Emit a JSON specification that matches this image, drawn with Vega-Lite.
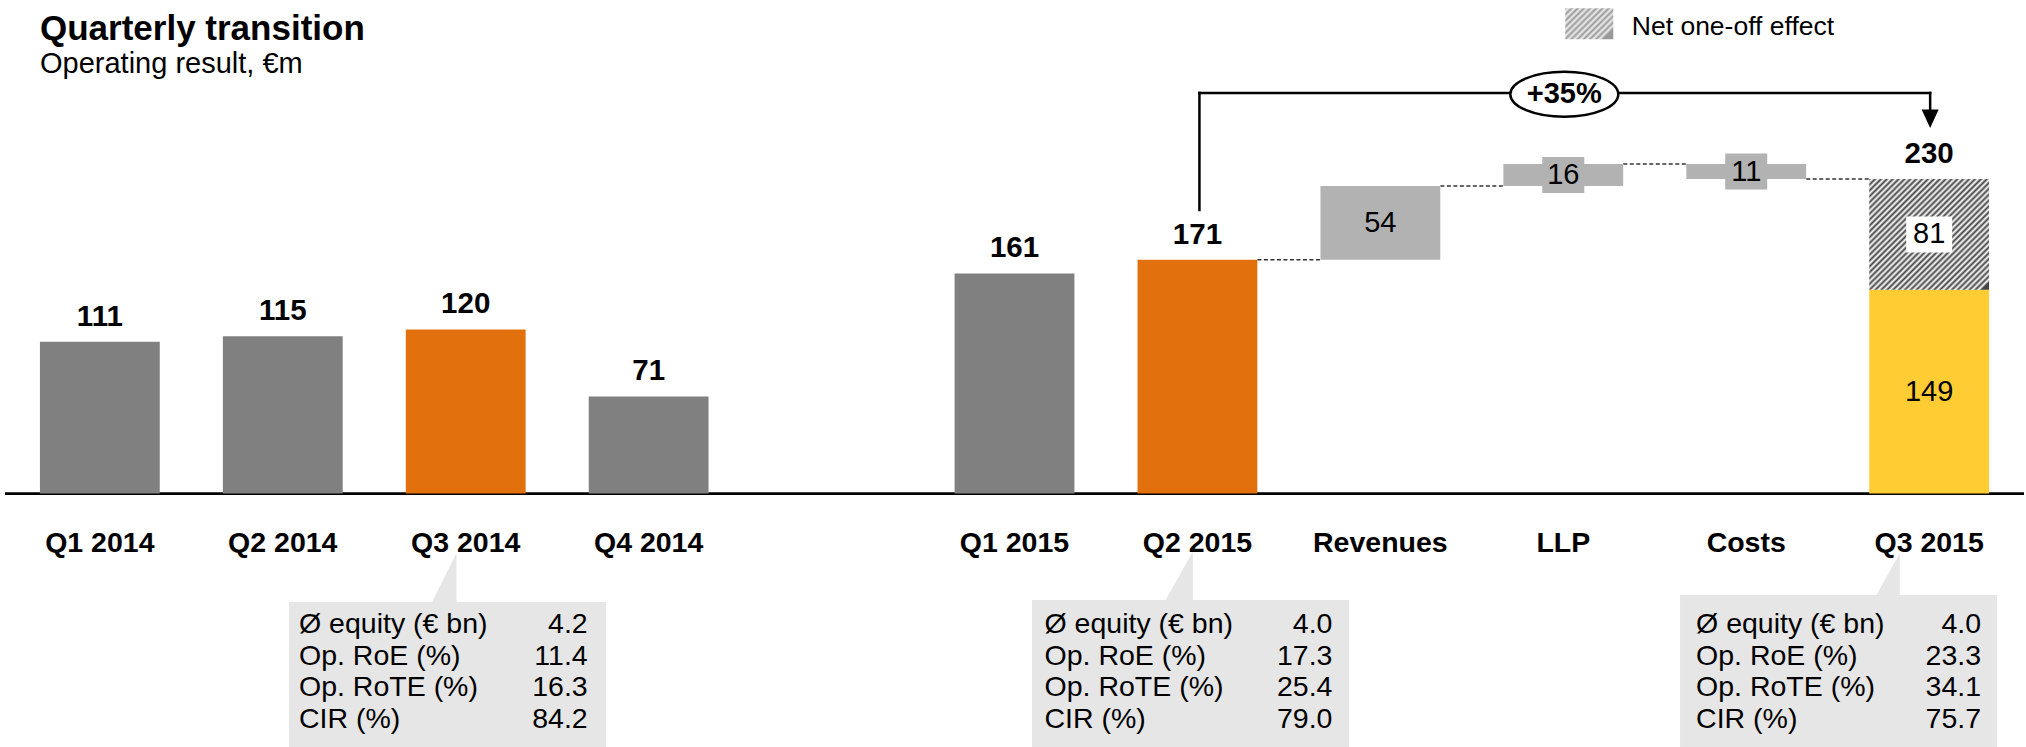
{
  "$schema": "https://vega.github.io/schema/vega-lite/v6.json",
  "width": 2026,
  "height": 747,
  "autosize": {"type": "fit", "contains": "padding"},
  "padding": {"left": 3, "right": 0, "top": 0, "bottom": 0},
  "background": "white",
  "config": {"view": {"stroke": null}, "font": "Liberation Sans", "text": {"font": "Liberation Sans", "color": "#000000"}},
  "title": {
    "text": "Quarterly transition",
    "subtitle": "Operating result, €m",
    "anchor": "start",
    "frame": "group",
    "offset": -79,
    "dx": 35,
    "font": "Liberation Sans",
    "fontSize": 35,
    "fontWeight": "bold",
    "color": "#000000",
    "subtitleFont": "Liberation Sans",
    "subtitleFontSize": 29,
    "subtitleColor": "#000000",
    "subtitlePadding": 3
  },
  "datasets": {
    "bars": [
      {"cat": "Q1 2014", "start": 0, "end": 111, "amount": 111, "kind": "total"},
      {"cat": "Q2 2014", "start": 0, "end": 115, "amount": 115, "kind": "total"},
      {"cat": "Q3 2014", "start": 0, "end": 120, "amount": 120, "kind": "highlight"},
      {"cat": "Q4 2014", "start": 0, "end": 71, "amount": 71, "kind": "total"},
      {"cat": "Q1 2015", "start": 0, "end": 161, "amount": 161, "kind": "total"},
      {"cat": "Q2 2015", "start": 0, "end": 171, "amount": 171, "kind": "highlight"},
      {"cat": "Revenues", "start": 171, "end": 225, "amount": 54, "kind": "delta"},
      {"cat": "LLP", "start": 225, "end": 241, "amount": 16, "kind": "delta"},
      {"cat": "Costs", "start": 241, "end": 230, "amount": 11, "kind": "delta"},
      {"cat": "Q3 2015", "start": 0, "end": 149, "amount": 149, "kind": "underlying"},
      {"cat": "Q3 2015", "start": 149, "end": 230, "amount": 81, "kind": "oneoff"}
    ],
    "totals": [
      {"cat": "Q1 2014", "total": 111},
      {"cat": "Q2 2014", "total": 115},
      {"cat": "Q3 2014", "total": 120},
      {"cat": "Q4 2014", "total": 71},
      {"cat": "Q1 2015", "total": 161},
      {"cat": "Q2 2015", "total": 171},
      {"cat": "Q3 2015", "total": 230}
    ],
    "links": [
      {"from": "Q2 2015", "to": "Revenues", "level": 171},
      {"from": "Revenues", "to": "LLP", "level": 225},
      {"from": "LLP", "to": "Costs", "level": 241},
      {"from": "Costs", "to": "Q3 2015", "level": 230}
    ],
    "boxes": [{"cat": "Q3 2014"}, {"cat": "Q2 2015"}, {"cat": "Q3 2015"}],
    "kpis": [
      {"cat": "Q3 2014", "row": 1, "label": "Ø equity (€ bn)", "val": 4.2},
      {"cat": "Q3 2014", "row": 2, "label": "Op. RoE (%)", "val": 11.4},
      {"cat": "Q3 2014", "row": 3, "label": "Op. RoTE (%)", "val": 16.3},
      {"cat": "Q3 2014", "row": 4, "label": "CIR (%)", "val": 84.2},
      {"cat": "Q2 2015", "row": 1, "label": "Ø equity (€ bn)", "val": 4.0},
      {"cat": "Q2 2015", "row": 2, "label": "Op. RoE (%)", "val": 17.3},
      {"cat": "Q2 2015", "row": 3, "label": "Op. RoTE (%)", "val": 25.4},
      {"cat": "Q2 2015", "row": 4, "label": "CIR (%)", "val": 79.0},
      {"cat": "Q3 2015", "row": 1, "label": "Ø equity (€ bn)", "val": 4.0},
      {"cat": "Q3 2015", "row": 2, "label": "Op. RoE (%)", "val": 23.3},
      {"cat": "Q3 2015", "row": 3, "label": "Op. RoTE (%)", "val": 34.1},
      {"cat": "Q3 2015", "row": 4, "label": "CIR (%)", "val": 75.7}
    ]
  },
  "resolve": {"scale": {"y": "independent"}},
  "layer": [
    {
      "layer": [
        {
          "data": {"values": [{}]},
          "mark": {"type": "rule", "color": "#000000", "strokeWidth": 2.7},
          "encoding": {"y": {"datum": 0, "type": "quantitative", "scale": {"domain": [-185.4, 361], "nice": false, "zero": false}, "axis": null}}
        },
        {
          "data": {"name": "links"},
          "mark": {"type": "rule", "color": "#333333", "strokeWidth": 1.5, "strokeDash": [4, 2.5], "xOffset": 60, "x2Offset": -60},
          "encoding": {
            "x": {"field": "from", "type": "nominal", "axis": null},
            "x2": {"field": "to"},
            "y": {"field": "level", "type": "quantitative", "scale": {"domain": [-185.4, 361], "nice": false, "zero": false}, "axis": null}
          }
        },
        {
          "data": {"name": "bars"},
          "transform": [{"filter": "datum.kind !== 'oneoff'"}],
          "mark": {"type": "bar"},
          "encoding": {
            "x": {"field": "cat", "type": "nominal", "axis": null,
                  "scale": {"type": "band", "domain": ["Q1 2014", "Q2 2014", "Q3 2014", "Q4 2014", " ", "Q1 2015", "Q2 2015", "Revenues", "LLP", "Costs", "Q3 2015"], "paddingInner": 0.345, "paddingOuter": 0.191}},
            "y": {"field": "start", "type": "quantitative", "scale": {"domain": [-185.4, 361], "nice": false, "zero": false}, "axis": null},
            "y2": {"field": "end"},
            "color": {"field": "kind", "type": "nominal", "legend": null,
                      "scale": {"domain": ["total", "highlight", "delta", "underlying"], "range": ["#808080", "#E1700D", "#B2B2B2", "#FFCC33"]}}
          }
        },
        {
          "data": {"name": "bars"},
          "transform": [{"filter": "datum.kind === 'oneoff'"}],
          "mark": {"type": "bar", "color": {"gradient": "linear", "x1": 0, "y1": 0, "x2": 1, "y2": 0.93, "stops": [
            {"offset": 0, "color": "#444444"}, {"offset": 0.01316, "color": "#ffffff"}, {"offset": 0.02632, "color": "#444444"}, {"offset": 0.03947, "color": "#ffffff"},
            {"offset": 0.05263, "color": "#444444"}, {"offset": 0.06579, "color": "#ffffff"}, {"offset": 0.07895, "color": "#444444"}, {"offset": 0.09211, "color": "#ffffff"},
            {"offset": 0.10526, "color": "#444444"}, {"offset": 0.11842, "color": "#ffffff"}, {"offset": 0.13158, "color": "#444444"}, {"offset": 0.14474, "color": "#ffffff"},
            {"offset": 0.15789, "color": "#444444"}, {"offset": 0.17105, "color": "#ffffff"}, {"offset": 0.18421, "color": "#444444"}, {"offset": 0.19737, "color": "#ffffff"},
            {"offset": 0.21053, "color": "#444444"}, {"offset": 0.22368, "color": "#ffffff"}, {"offset": 0.23684, "color": "#444444"}, {"offset": 0.25, "color": "#ffffff"},
            {"offset": 0.26316, "color": "#444444"}, {"offset": 0.27632, "color": "#ffffff"}, {"offset": 0.28947, "color": "#444444"}, {"offset": 0.30263, "color": "#ffffff"},
            {"offset": 0.31579, "color": "#444444"}, {"offset": 0.32895, "color": "#ffffff"}, {"offset": 0.34211, "color": "#444444"}, {"offset": 0.35526, "color": "#ffffff"},
            {"offset": 0.36842, "color": "#444444"}, {"offset": 0.38158, "color": "#ffffff"}, {"offset": 0.39474, "color": "#444444"}, {"offset": 0.40789, "color": "#ffffff"},
            {"offset": 0.42105, "color": "#444444"}, {"offset": 0.43421, "color": "#ffffff"}, {"offset": 0.44737, "color": "#444444"}, {"offset": 0.46053, "color": "#ffffff"},
            {"offset": 0.47368, "color": "#444444"}, {"offset": 0.48684, "color": "#ffffff"}, {"offset": 0.5, "color": "#444444"}, {"offset": 0.51316, "color": "#ffffff"},
            {"offset": 0.52632, "color": "#444444"}, {"offset": 0.53947, "color": "#ffffff"}, {"offset": 0.55263, "color": "#444444"}, {"offset": 0.56579, "color": "#ffffff"},
            {"offset": 0.57895, "color": "#444444"}, {"offset": 0.59211, "color": "#ffffff"}, {"offset": 0.60526, "color": "#444444"}, {"offset": 0.61842, "color": "#ffffff"},
            {"offset": 0.63158, "color": "#444444"}, {"offset": 0.64474, "color": "#ffffff"}, {"offset": 0.65789, "color": "#444444"}, {"offset": 0.67105, "color": "#ffffff"},
            {"offset": 0.68421, "color": "#444444"}, {"offset": 0.69737, "color": "#ffffff"}, {"offset": 0.71053, "color": "#444444"}, {"offset": 0.72368, "color": "#ffffff"},
            {"offset": 0.73684, "color": "#444444"}, {"offset": 0.75, "color": "#ffffff"}, {"offset": 0.76316, "color": "#444444"}, {"offset": 0.77632, "color": "#ffffff"},
            {"offset": 0.78947, "color": "#444444"}, {"offset": 0.80263, "color": "#ffffff"}, {"offset": 0.81579, "color": "#444444"}, {"offset": 0.82895, "color": "#ffffff"},
            {"offset": 0.84211, "color": "#444444"}, {"offset": 0.85526, "color": "#ffffff"}, {"offset": 0.86842, "color": "#444444"}, {"offset": 0.88158, "color": "#ffffff"},
            {"offset": 0.89474, "color": "#444444"}, {"offset": 0.90789, "color": "#ffffff"}, {"offset": 0.92105, "color": "#444444"}, {"offset": 0.93421, "color": "#ffffff"},
            {"offset": 0.94737, "color": "#444444"}, {"offset": 0.96053, "color": "#ffffff"}, {"offset": 0.97368, "color": "#444444"}, {"offset": 0.98684, "color": "#ffffff"},
            {"offset": 1, "color": "#444444"}
          ]}},
          "encoding": {
            "x": {"field": "cat", "type": "nominal", "axis": null},
            "y": {"field": "start", "type": "quantitative", "scale": {"domain": [-185.4, 361], "nice": false, "zero": false}, "axis": null},
            "y2": {"field": "end"}
          }
        },
        {
          "data": {"name": "bars"},
          "transform": [{"filter": "datum.cat === 'LLP' || datum.cat === 'Costs'"}, {"calculate": "(datum.start + datum.end) / 2", "as": "mid"}],
          "mark": {"type": "point", "shape": "M -21 -18 H 21 V 18 H -21 Z", "size": 4, "filled": true, "fill": "#B2B2B2", "opacity": 1, "strokeWidth": 0},
          "encoding": {
            "x": {"field": "cat", "type": "nominal", "axis": null},
            "y": {"field": "mid", "type": "quantitative", "scale": {"domain": [-185.4, 361], "nice": false, "zero": false}, "axis": null}
          }
        },
        {
          "data": {"name": "bars"},
          "transform": [{"filter": "datum.kind === 'oneoff'"}, {"calculate": "(datum.start + datum.end) / 2", "as": "mid"}],
          "mark": {"type": "point", "shape": "M -23 -18 H 23 V 18 H -23 Z", "size": 4, "filled": true, "fill": "#ffffff", "opacity": 1, "strokeWidth": 0},
          "encoding": {
            "x": {"field": "cat", "type": "nominal", "axis": null},
            "y": {"field": "mid", "type": "quantitative", "scale": {"domain": [-185.4, 361], "nice": false, "zero": false}, "axis": null}
          }
        },
        {
          "data": {"name": "bars"},
          "transform": [{"filter": "datum.kind !== 'total' && datum.kind !== 'highlight'"}, {"calculate": "(datum.start + datum.end) / 2", "as": "mid"}],
          "mark": {"type": "text", "fontSize": 29, "baseline": "middle", "align": "center", "color": "#000000"},
          "encoding": {
            "x": {"field": "cat", "type": "nominal", "axis": null},
            "y": {"field": "mid", "type": "quantitative", "scale": {"domain": [-185.4, 361], "nice": false, "zero": false}, "axis": null},
            "text": {"field": "amount", "type": "quantitative"}
          }
        },
        {
          "data": {"name": "totals"},
          "mark": {"type": "text", "fontSize": 29.5, "fontWeight": "bold", "baseline": "alphabetic", "align": "center", "dy": -16, "color": "#000000"},
          "encoding": {
            "x": {"field": "cat", "type": "nominal", "axis": null},
            "y": {"field": "total", "type": "quantitative", "scale": {"domain": [-185.4, 361], "nice": false, "zero": false}, "axis": null},
            "text": {"field": "total", "type": "quantitative"}
          }
        },
        {
          "data": {"name": "bars"},
          "transform": [{"filter": "datum.kind !== 'oneoff'"}],
          "mark": {"type": "text", "fontSize": 28.5, "fontWeight": "bold", "baseline": "alphabetic", "align": "center", "dy": 58, "color": "#000000"},
          "encoding": {
            "x": {"field": "cat", "type": "nominal", "axis": null},
            "y": {"datum": 0, "type": "quantitative", "scale": {"domain": [-185.4, 361], "nice": false, "zero": false}, "axis": null},
            "text": {"field": "cat", "type": "nominal"}
          }
        },
        {
          "data": {"values": [{}]},
          "mark": {"type": "rule", "color": "#000000", "strokeWidth": 2.5, "strokeCap": "square", "xOffset": 2},
          "encoding": {
            "x": {"datum": "Q2 2015", "type": "nominal", "axis": null},
            "y": {"datum": 207.4, "type": "quantitative", "scale": {"domain": [-185.4, 361], "nice": false, "zero": false}, "axis": null},
            "y2": {"datum": 293}
          }
        },
        {
          "data": {"values": [{}]},
          "mark": {"type": "rule", "color": "#000000", "strokeWidth": 2.5, "strokeCap": "square", "xOffset": 2, "x2Offset": 1},
          "encoding": {
            "x": {"datum": "Q2 2015", "type": "nominal", "axis": null},
            "x2": {"datum": "Q3 2015"},
            "y": {"datum": 293, "type": "quantitative", "scale": {"domain": [-185.4, 361], "nice": false, "zero": false}, "axis": null}
          }
        },
        {
          "data": {"values": [{}]},
          "mark": {"type": "rule", "color": "#000000", "strokeWidth": 2.5, "strokeCap": "square", "xOffset": 1},
          "encoding": {
            "x": {"datum": "Q3 2015", "type": "nominal", "axis": null},
            "y": {"datum": 293, "type": "quantitative", "scale": {"domain": [-185.4, 361], "nice": false, "zero": false}, "axis": null},
            "y2": {"datum": 280}
          }
        },
        {
          "data": {"values": [{}]},
          "mark": {"type": "point", "shape": "M -8.5 -18.5 L 8.5 -18.5 L 0 0 Z", "size": 4, "filled": true, "fill": "#000000", "opacity": 1, "strokeWidth": 0, "xOffset": 1},
          "encoding": {
            "x": {"datum": "Q3 2015", "type": "nominal", "axis": null},
            "y": {"datum": 267.4, "type": "quantitative", "scale": {"domain": [-185.4, 361], "nice": false, "zero": false}, "axis": null}
          }
        },
        {
          "data": {"values": [{}]},
          "mark": {"type": "point", "shape": "M -54 0 A 54 22.5 0 1 1 54 0 A 54 22.5 0 1 1 -54 0 Z", "size": 4, "filled": false, "fill": "#ffffff", "stroke": "#000000", "strokeWidth": 2.5, "opacity": 1, "xOffset": 1},
          "encoding": {
            "x": {"datum": "LLP", "type": "nominal", "axis": null},
            "y": {"datum": 292.1, "type": "quantitative", "scale": {"domain": [-185.4, 361], "nice": false, "zero": false}, "axis": null}
          }
        },
        {
          "data": {"values": [{}]},
          "mark": {"type": "text", "text": "+35%", "fontSize": 29, "fontWeight": "bold", "baseline": "middle", "align": "center", "dx": 1, "color": "#000000"},
          "encoding": {
            "x": {"datum": "LLP", "type": "nominal", "axis": null},
            "y": {"datum": 292.1, "type": "quantitative", "scale": {"domain": [-185.4, 361], "nice": false, "zero": false}, "axis": null}
          }
        },
        {
          "data": {"values": [{}]},
          "mark": {"type": "bar", "width": 48, "xOffset": 26, "color": {"gradient": "linear", "x1": 0, "y1": 0, "x2": 1, "y2": 0.65, "stops": [
            {"offset": 0, "color": "#999999"}, {"offset": 0.04545, "color": "#eeeeee"}, {"offset": 0.09091, "color": "#999999"}, {"offset": 0.13636, "color": "#eeeeee"},
            {"offset": 0.18182, "color": "#999999"}, {"offset": 0.22727, "color": "#eeeeee"}, {"offset": 0.27273, "color": "#999999"}, {"offset": 0.31818, "color": "#eeeeee"},
            {"offset": 0.36364, "color": "#999999"}, {"offset": 0.40909, "color": "#eeeeee"}, {"offset": 0.45455, "color": "#999999"}, {"offset": 0.5, "color": "#eeeeee"},
            {"offset": 0.54545, "color": "#999999"}, {"offset": 0.59091, "color": "#eeeeee"}, {"offset": 0.63636, "color": "#999999"}, {"offset": 0.68182, "color": "#eeeeee"},
            {"offset": 0.72727, "color": "#999999"}, {"offset": 0.77273, "color": "#eeeeee"}, {"offset": 0.81818, "color": "#999999"}, {"offset": 0.86364, "color": "#eeeeee"},
            {"offset": 0.90909, "color": "#999999"}, {"offset": 0.95455, "color": "#eeeeee"}, {"offset": 1, "color": "#999999"}
          ]}},
          "encoding": {
            "x": {"datum": "LLP", "type": "nominal", "axis": null},
            "y": {"datum": 354.9, "type": "quantitative", "scale": {"domain": [-185.4, 361], "nice": false, "zero": false}, "axis": null},
            "y2": {"datum": 332.3}
          }
        },
        {
          "data": {"values": [{}]},
          "mark": {"type": "text", "text": "Net one-off effect", "fontSize": 26.5, "baseline": "alphabetic", "align": "left", "dx": 68.5, "color": "#000000"},
          "encoding": {
            "x": {"datum": "LLP", "type": "nominal", "axis": null},
            "y": {"datum": 335.4, "type": "quantitative", "scale": {"domain": [-185.4, 361], "nice": false, "zero": false}, "axis": null}
          }
        }
      ]
    },
    {
      "layer": [
        {
          "data": {"name": "boxes"},
          "transform": [{"filter": "datum.cat === 'Q3 2014'"}],
          "mark": {"type": "bar", "width": 317, "xOffset": -18.2, "color": "#E6E6E6"},
          "encoding": {
            "x": {"field": "cat", "type": "nominal", "axis": null},
            "y": {"datum": 0.02, "type": "quantitative", "scale": {"domain": [-18.97, 4.595], "reverse": true, "nice": false, "zero": false}, "axis": null},
            "y2": {"datum": 4.595}
          }
        },
        {
          "data": {"name": "boxes"},
          "transform": [{"filter": "datum.cat === 'Q3 2014'"}],
          "mark": {"type": "point", "shape": "M -9.2 -49 L -9.2 2 L -34.7 2 Z", "size": 4, "filled": true, "fill": "#E6E6E6", "opacity": 1, "strokeWidth": 0},
          "encoding": {
            "x": {"field": "cat", "type": "nominal", "axis": null},
            "y": {"datum": 0.02, "type": "quantitative", "scale": {"domain": [-18.97, 4.595], "reverse": true, "nice": false, "zero": false}, "axis": null}
          }
        },
        {
          "data": {"name": "kpis"},
          "transform": [{"filter": "datum.cat === 'Q3 2014'"}],
          "mark": {"type": "text", "fontSize": 28.5, "align": "left", "baseline": "alphabetic", "dx": -166.7, "color": "#000000"},
          "encoding": {
            "x": {"field": "cat", "type": "nominal", "axis": null},
            "y": {"field": "row", "type": "quantitative", "scale": {"domain": [-18.97, 4.595], "reverse": true, "nice": false, "zero": false}, "axis": null},
            "text": {"field": "label", "type": "nominal"}
          }
        },
        {
          "data": {"name": "kpis"},
          "transform": [{"filter": "datum.cat === 'Q3 2014'"}],
          "mark": {"type": "text", "fontSize": 28.5, "align": "right", "baseline": "alphabetic", "dx": 122, "color": "#000000"},
          "encoding": {
            "x": {"field": "cat", "type": "nominal", "axis": null},
            "y": {"field": "row", "type": "quantitative", "scale": {"domain": [-18.97, 4.595], "reverse": true, "nice": false, "zero": false}, "axis": null},
            "text": {"field": "val", "type": "quantitative", "format": ".1f"}
          }
        },
        {
          "data": {"name": "boxes"},
          "transform": [{"filter": "datum.cat === 'Q2 2015'"}],
          "mark": {"type": "bar", "width": 317, "xOffset": -6.9, "color": "#E6E6E6"},
          "encoding": {
            "x": {"field": "cat", "type": "nominal", "axis": null},
            "y": {"datum": -0.042, "type": "quantitative", "scale": {"domain": [-18.97, 4.595], "reverse": true, "nice": false, "zero": false}, "axis": null},
            "y2": {"datum": 4.595}
          }
        },
        {
          "data": {"name": "boxes"},
          "transform": [{"filter": "datum.cat === 'Q2 2015'"}],
          "mark": {"type": "point", "shape": "M -4.6 -48.3 L -4.6 2 L -32.9 2 Z", "size": 4, "filled": true, "fill": "#E6E6E6", "opacity": 1, "strokeWidth": 0},
          "encoding": {
            "x": {"field": "cat", "type": "nominal", "axis": null},
            "y": {"datum": -0.042, "type": "quantitative", "scale": {"domain": [-18.97, 4.595], "reverse": true, "nice": false, "zero": false}, "axis": null}
          }
        },
        {
          "data": {"name": "kpis"},
          "transform": [{"filter": "datum.cat === 'Q2 2015'"}],
          "mark": {"type": "text", "fontSize": 28.5, "align": "left", "baseline": "alphabetic", "dx": -152.9, "color": "#000000"},
          "encoding": {
            "x": {"field": "cat", "type": "nominal", "axis": null},
            "y": {"field": "row", "type": "quantitative", "scale": {"domain": [-18.97, 4.595], "reverse": true, "nice": false, "zero": false}, "axis": null},
            "text": {"field": "label", "type": "nominal"}
          }
        },
        {
          "data": {"name": "kpis"},
          "transform": [{"filter": "datum.cat === 'Q2 2015'"}],
          "mark": {"type": "text", "fontSize": 28.5, "align": "right", "baseline": "alphabetic", "dx": 135, "color": "#000000"},
          "encoding": {
            "x": {"field": "cat", "type": "nominal", "axis": null},
            "y": {"field": "row", "type": "quantitative", "scale": {"domain": [-18.97, 4.595], "reverse": true, "nice": false, "zero": false}, "axis": null},
            "text": {"field": "val", "type": "quantitative", "format": ".1f"}
          }
        },
        {
          "data": {"name": "boxes"},
          "transform": [{"filter": "datum.cat === 'Q3 2015'"}],
          "mark": {"type": "bar", "width": 317, "xOffset": -90.6, "color": "#E6E6E6"},
          "encoding": {
            "x": {"field": "cat", "type": "nominal", "axis": null},
            "y": {"datum": -0.2, "type": "quantitative", "scale": {"domain": [-18.97, 4.595], "reverse": true, "nice": false, "zero": false}, "axis": null},
            "y2": {"datum": 4.595}
          }
        },
        {
          "data": {"name": "boxes"},
          "transform": [{"filter": "datum.cat === 'Q3 2015'"}],
          "mark": {"type": "point", "shape": "M -29.4 -41.7 L -29.4 2 L -53.8 2 Z", "size": 4, "filled": true, "fill": "#E6E6E6", "opacity": 1, "strokeWidth": 0},
          "encoding": {
            "x": {"field": "cat", "type": "nominal", "axis": null},
            "y": {"datum": -0.2, "type": "quantitative", "scale": {"domain": [-18.97, 4.595], "reverse": true, "nice": false, "zero": false}, "axis": null}
          }
        },
        {
          "data": {"name": "kpis"},
          "transform": [{"filter": "datum.cat === 'Q3 2015'"}],
          "mark": {"type": "text", "fontSize": 28.5, "align": "left", "baseline": "alphabetic", "dx": -233.1, "color": "#000000"},
          "encoding": {
            "x": {"field": "cat", "type": "nominal", "axis": null},
            "y": {"field": "row", "type": "quantitative", "scale": {"domain": [-18.97, 4.595], "reverse": true, "nice": false, "zero": false}, "axis": null},
            "text": {"field": "label", "type": "nominal"}
          }
        },
        {
          "data": {"name": "kpis"},
          "transform": [{"filter": "datum.cat === 'Q3 2015'"}],
          "mark": {"type": "text", "fontSize": 28.5, "align": "right", "baseline": "alphabetic", "dx": 51.9, "color": "#000000"},
          "encoding": {
            "x": {"field": "cat", "type": "nominal", "axis": null},
            "y": {"field": "row", "type": "quantitative", "scale": {"domain": [-18.97, 4.595], "reverse": true, "nice": false, "zero": false}, "axis": null},
            "text": {"field": "val", "type": "quantitative", "format": ".1f"}
          }
        }
      ]
    }
  ]
}
